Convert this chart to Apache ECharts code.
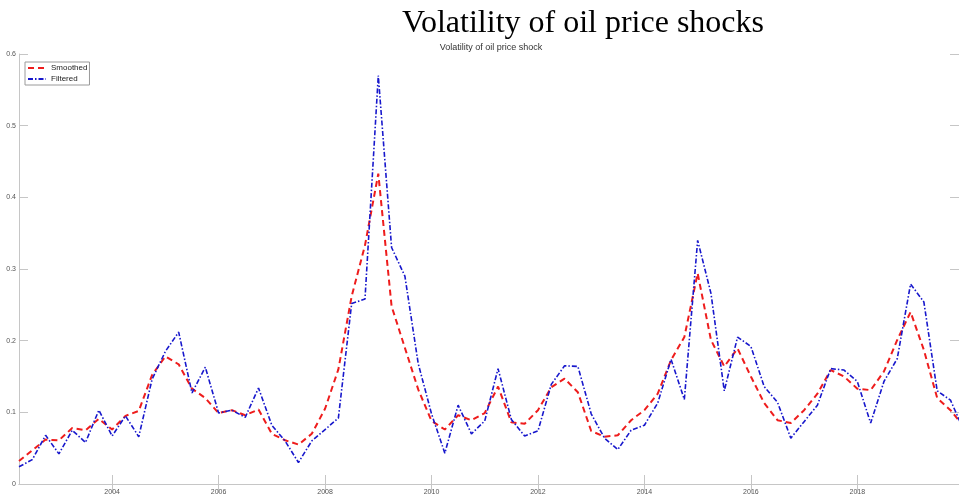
<!DOCTYPE html>
<html><head><meta charset="utf-8">
<script src="https://cdn.jsdelivr.net/npm/echarts@6/dist/echarts.min.js"></script>
<style>html,body{margin:0;padding:0;background:#fff}#c{width:959px;height:499px}</style>
</head><body><div id="c"></div>
<script>
// Quarterly data starting 2002 Q2
const startYear = 2002;
const startQuarter = 2;
const seriesNames = ['Smoothed', 'Filtered'];
const smoothed = [
  0.032, 0.047, 0.062, 0.061, 0.078, 0.075, 0.091, 0.076, 0.095, 0.102,
  0.152, 0.178, 0.167, 0.133, 0.120, 0.099, 0.103, 0.096, 0.104, 0.070,
  0.061, 0.055, 0.070, 0.105, 0.160, 0.262, 0.333, 0.433, 0.248, 0.190,
  0.132, 0.088, 0.076, 0.096, 0.089, 0.099, 0.136, 0.086, 0.084, 0.103,
  0.135, 0.147, 0.128, 0.074, 0.066, 0.068, 0.089, 0.103, 0.126, 0.173,
  0.205, 0.294, 0.201, 0.164, 0.189, 0.150, 0.113, 0.089, 0.085, 0.103,
  0.126, 0.159, 0.150, 0.133, 0.131, 0.157, 0.201, 0.240, 0.187, 0.120,
  0.103, 0.080
];
const filtered = [
  0.024, 0.034, 0.068, 0.042, 0.075, 0.058, 0.103, 0.067, 0.095, 0.066,
  0.146, 0.185, 0.212, 0.127, 0.163, 0.099, 0.103, 0.093, 0.134, 0.082,
  0.060, 0.030, 0.060, 0.076, 0.092, 0.252, 0.258, 0.570, 0.330, 0.290,
  0.168, 0.098, 0.043, 0.110, 0.070, 0.088, 0.161, 0.090, 0.067, 0.074,
  0.139, 0.165, 0.164, 0.098, 0.064, 0.048, 0.075, 0.082, 0.113, 0.174,
  0.118, 0.340, 0.266, 0.130, 0.205, 0.192, 0.136, 0.114, 0.064, 0.087,
  0.110, 0.161, 0.159, 0.143, 0.085, 0.143, 0.175, 0.279, 0.254, 0.130,
  0.117, 0.075
];
const xTickYears = [2004, 2006, 2008, 2010, 2012, 2014, 2016, 2018];
const yMin = 0, yMax = 0.6, yStep = 0.1;
const mainTitle = 'Volatility of oil price shocks';
const axesTitle = 'Volatility of oil price shock';

const quarterX = smoothed.map((_, i) => {
  const q = startQuarter - 1 + i;
  return startYear + Math.floor(q / 4) + (q % 4) / 4;
});

const axisColor = '#c6c6c6';
const chart = echarts.init(document.getElementById('c'), null, {renderer: 'canvas'});
const xBase = {
  type: 'value', min: 2002.25, max: 2019.91, gridIndex: 0,
  axisLine: {show: true, lineStyle: {color: axisColor, width: 1}},
  axisTick: {show: true, inside: true, length: 9, customValues: xTickYears, lineStyle: {color: axisColor}},
  splitLine: {show: false}
};
const yBase = {
  type: 'value', min: yMin, max: yMax, interval: yStep, gridIndex: 0,
  axisLine: {show: true, lineStyle: {color: axisColor, width: 1}},
  axisTick: {show: true, inside: true, length: 9, lineStyle: {color: axisColor}},
  splitLine: {show: false}
};
chart.setOption({
  animation: false,
  backgroundColor: '#fff',
  grid: {left: 19, top: 54, width: 943, height: 430, containLabel: false},
  graphic: [
    {type: 'text', x: 583, y: 24, style: {text: mainTitle, fontFamily: 'Liberation Serif', fontSize: 32, fill: '#000', align: 'center', verticalAlign: 'middle'}},
    {type: 'text', x: 491, y: 48, style: {text: axesTitle, fontFamily: 'Liberation Sans', fontSize: 9, fill: '#333', align: 'center', verticalAlign: 'middle'}}
  ],
  legend: {
    orient: 'vertical', left: 25, top: 62, itemWidth: 18, itemHeight: 8, itemGap: 3,
    padding: [2, 2, 2, 2], borderColor: '#9a9a9a', borderWidth: 1, backgroundColor: '#fff',
    itemStyle: {opacity: 0},
    textStyle: {fontSize: 8, color: '#222', fontFamily: 'Liberation Sans'},
    data: seriesNames, selectedMode: false
  },
  xAxis: [
    Object.assign({}, xBase, {position: 'bottom',
      axisLabel: {customValues: xTickYears, fontSize: 7, color: '#555', margin: 5, fontFamily: 'Liberation Sans', formatter: v => String(v)}}),
    Object.assign({}, xBase, {position: 'top', axisLabel: {show: false}})
  ],
  yAxis: [
    Object.assign({}, yBase, {position: 'left',
      axisLabel: {fontSize: 7, color: '#555', margin: 3, fontFamily: 'Liberation Sans', formatter: v => (v === 0 ? '0' : v.toFixed(1))}}),
    Object.assign({}, yBase, {position: 'right', axisLabel: {show: false}})
  ],
  series: [
    {name: seriesNames[0], type: 'line', xAxisIndex: 0, yAxisIndex: 0, symbol: 'none', showSymbol: false,
     data: quarterX.map((x, i) => [x, smoothed[i]]), z: 2,
     itemStyle: {color: '#ee1c1c'}, lineStyle: {color: '#ee1c1c', width: 2, type: [6, 4]}},
    {name: seriesNames[1], type: 'line', xAxisIndex: 0, yAxisIndex: 0, symbol: 'none', showSymbol: false,
     data: quarterX.map((x, i) => [x, filtered[i]]), z: 3,
     itemStyle: {color: '#1717cc'}, lineStyle: {color: '#1717cc', width: 1.6, type: [5, 2, 1.5, 2]}}
  ]
});
</script></body></html>
